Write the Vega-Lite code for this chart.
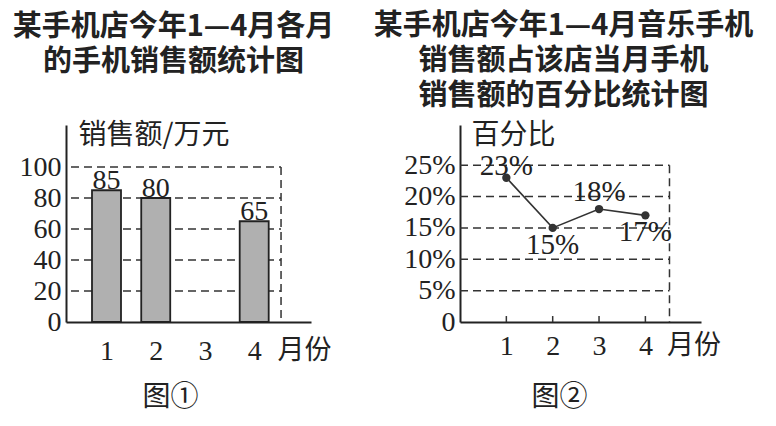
{
  "$schema": "https://vega.github.io/schema/vega-lite/v6.json",
  "padding": {"left": 12, "top": 12, "right": 4, "bottom": 4},
  "background": "white",
  "spacing": 38,
  "datasets": {
    "sales": [
      {"month": 1, "sales": 85},
      {"month": 2, "sales": 80},
      {"month": 4, "sales": 65}
    ],
    "share": [
      {"month": 1, "pct": 0.23},
      {"month": 2, "pct": 0.15},
      {"month": 3, "pct": 0.18},
      {"month": 4, "pct": 0.17}
    ],
    "gridL": [{"v": 20}, {"v": 40}, {"v": 60}, {"v": 80}, {"v": 100}],
    "gridR": [{"v": 0.05}, {"v": 0.1}, {"v": 0.15}, {"v": 0.2}, {"v": 0.25}]
  },
  "hconcat": [
    {
      "width": 245,
      "height": 197,
      "title": {
        "text": ["某手机店今年1—4月各月", "的手机销售额统计图"],
        "frame": "group",
        "anchor": "middle",
        "dx": -15,
        "offset": 44
      },
      "layer": [
        {
          "data": {"name": "gridL"},
          "mark": {"type": "rule", "color": "#333", "strokeWidth": 1.5, "strokeDash": [8, 5]},
          "encoding": {
            "y": {
              "field": "v",
              "type": "quantitative",
              "scale": {"domain": [0, 127.1], "nice": false},
              "axis": {"values": [0, 20, 40, 60, 80, 100], "labelOverlap": false, "title": "销售额/万元", "titleX": 12, "titleY": 10}
            },
            "x": {"datum": 0.279, "type": "quantitative", "scale": {"domain": [0.279, 5.052], "nice": false, "zero": false}},
            "x2": {"datum": 4.545}
          }
        },
        {
          "data": {"name": "gridL"},
          "transform": [{"filter": "datum.v == 100"}],
          "mark": {"type": "rule", "color": "#333", "strokeWidth": 1.5, "strokeDash": [8, 5]},
          "encoding": {
            "x": {"datum": 4.545, "type": "quantitative", "scale": {"domain": [0.279, 5.052], "nice": false, "zero": false}},
            "y": {
              "field": "v",
              "type": "quantitative",
              "scale": {"domain": [0, 127.1], "nice": false},
              "axis": {"values": [0, 20, 40, 60, 80, 100], "labelOverlap": false, "title": "销售额/万元", "titleX": 12, "titleY": 10}
            },
            "y2": {"datum": 0}
          }
        },
        {
          "data": {"name": "sales"},
          "mark": {"type": "bar", "width": 29, "fill": "#b0b0b0", "stroke": "#222", "strokeWidth": 1.8},
          "encoding": {
            "x": {
              "field": "month",
              "type": "quantitative",
              "scale": {"domain": [0.279, 5.052], "nice": false, "zero": false},
              "axis": {
                "values": [1, 2, 3, 4, 5.01],
                "labelExpr": "datum.value > 4.5 ? '月份' : datum.label",
                "labelFontSize": {"condition": {"test": "datum.value > 4.5", "value": 27}, "value": 28},
                "labelFont": {"condition": {"test": "datum.value > 4.5", "value": "Noto Sans CJK SC"}, "value": "Liberation Serif"},
                "labelPadding": 15,
                "labelOverlap": false,
                "title": "图①",
                "titleX": 104,
                "titleY": 75
              }
            },
            "y": {
              "field": "sales",
              "type": "quantitative",
              "scale": {"domain": [0, 127.1], "nice": false},
              "axis": {"values": [0, 20, 40, 60, 80, 100], "labelOverlap": false, "title": "销售额/万元", "titleX": 12, "titleY": 10}
            }
          }
        },
        {
          "data": {"name": "sales"},
          "mark": {"type": "text", "baseline": "alphabetic", "dy": -1, "font": "Liberation Serif", "fontSize": 28, "color": "#222"},
          "encoding": {
            "x": {"field": "month", "type": "quantitative", "scale": {"domain": [0.279, 5.052], "nice": false, "zero": false}},
            "y": {
              "field": "sales",
              "type": "quantitative",
              "scale": {"domain": [0, 127.1], "nice": false},
              "axis": {"values": [0, 20, 40, 60, 80, 100], "labelOverlap": false, "title": "销售额/万元", "titleX": 12, "titleY": 10}
            },
            "text": {"field": "sales", "type": "quantitative"}
          }
        }
      ]
    },
    {
      "width": 241,
      "height": 197,
      "title": {
        "text": ["某手机店今年1—4月音乐手机", "销售额占该店当月手机", "销售额的百分比统计图"],
        "frame": "group",
        "anchor": "middle",
        "dx": -17,
        "offset": 10
      },
      "layer": [
        {
          "data": {"name": "gridR"},
          "mark": {"type": "rule", "color": "#333", "strokeWidth": 1.5, "strokeDash": [8, 5]},
          "encoding": {
            "y": {
              "field": "v",
              "type": "quantitative",
              "scale": {"domain": [0, 0.314], "nice": false},
              "axis": {"values": [0, 0.05, 0.1, 0.15, 0.2, 0.25], "labelExpr": "datum.value == 0 ? '0' : format(datum.value, '.0%')", "labelOverlap": false, "title": "百分比", "titleX": 11, "titleY": 10}
            },
            "x": {"datum": 0, "type": "quantitative", "scale": {"domain": [0, 5.2], "nice": false}},
            "x2": {"datum": 4.52}
          }
        },
        {
          "data": {"name": "gridR"},
          "transform": [{"filter": "datum.v == 0.25"}],
          "mark": {"type": "rule", "color": "#333", "strokeWidth": 1.5, "strokeDash": [8, 5]},
          "encoding": {
            "x": {"datum": 4.52, "type": "quantitative", "scale": {"domain": [0, 5.2], "nice": false}},
            "y": {
              "field": "v",
              "type": "quantitative",
              "scale": {"domain": [0, 0.314], "nice": false},
              "axis": {"values": [0, 0.05, 0.1, 0.15, 0.2, 0.25], "labelExpr": "datum.value == 0 ? '0' : format(datum.value, '.0%')", "labelOverlap": false, "title": "百分比", "titleX": 11, "titleY": 10}
            },
            "y2": {"datum": 0}
          }
        },
        {
          "data": {"name": "share"},
          "mark": {"type": "rule", "color": "#333", "strokeWidth": 1.5},
          "encoding": {
            "x": {"field": "month", "type": "quantitative", "scale": {"domain": [0, 5.2], "nice": false}},
            "y": {
              "datum": 0.0095,
              "type": "quantitative",
              "scale": {"domain": [0, 0.314], "nice": false},
              "axis": {"values": [0, 0.05, 0.1, 0.15, 0.2, 0.25], "labelExpr": "datum.value == 0 ? '0' : format(datum.value, '.0%')", "labelOverlap": false, "title": "百分比", "titleX": 11, "titleY": 10}
            },
            "y2": {"datum": 0}
          }
        },
        {
          "data": {"name": "share"},
          "mark": {"type": "line", "color": "#333", "strokeWidth": 1.6, "point": {"filled": true, "size": 70, "color": "#333"}},
          "encoding": {
            "x": {
              "field": "month",
              "type": "quantitative",
              "scale": {"domain": [0, 5.2], "nice": false},
              "axis": {
                "values": [1, 2, 3, 4, 5.04],
                "labelExpr": "datum.value > 4.5 ? '月份' : datum.label",
                "labelFontSize": {"condition": {"test": "datum.value > 4.5", "value": 27}, "value": 28},
                "labelFont": {"condition": {"test": "datum.value > 4.5", "value": "Noto Sans CJK SC"}, "value": "Liberation Serif"},
                "labelPadding": 10,
                "labelOverlap": false,
                "title": "图②",
                "titleX": 99,
                "titleY": 75
              }
            },
            "y": {
              "field": "pct",
              "type": "quantitative",
              "scale": {"domain": [0, 0.314], "nice": false},
              "axis": {"values": [0, 0.05, 0.1, 0.15, 0.2, 0.25], "labelExpr": "datum.value == 0 ? '0' : format(datum.value, '.0%')", "labelOverlap": false, "title": "百分比", "titleX": 11, "titleY": 10}
            }
          }
        },
        {
          "data": {"name": "share"},
          "transform": [{"filter": "datum.month == 1"}],
          "mark": {"type": "text", "baseline": "middle", "dy": -12, "font": "Liberation Serif", "fontSize": 29, "color": "#222"},
          "encoding": {
            "x": {"field": "month", "type": "quantitative", "scale": {"domain": [0, 5.2], "nice": false}},
            "y": {
              "field": "pct",
              "type": "quantitative",
              "scale": {"domain": [0, 0.314], "nice": false},
              "axis": {"values": [0, 0.05, 0.1, 0.15, 0.2, 0.25], "labelExpr": "datum.value == 0 ? '0' : format(datum.value, '.0%')", "labelOverlap": false, "title": "百分比", "titleX": 11, "titleY": 10}
            },
            "text": {"field": "pct", "type": "quantitative", "format": ".0%"}
          }
        },
        {
          "data": {"name": "share"},
          "transform": [{"filter": "datum.month == 3"}],
          "mark": {"type": "text", "baseline": "middle", "dy": -17, "font": "Liberation Serif", "fontSize": 29, "color": "#222"},
          "encoding": {
            "x": {"field": "month", "type": "quantitative", "scale": {"domain": [0, 5.2], "nice": false}},
            "y": {
              "field": "pct",
              "type": "quantitative",
              "scale": {"domain": [0, 0.314], "nice": false},
              "axis": {"values": [0, 0.05, 0.1, 0.15, 0.2, 0.25], "labelExpr": "datum.value == 0 ? '0' : format(datum.value, '.0%')", "labelOverlap": false, "title": "百分比", "titleX": 11, "titleY": 10}
            },
            "text": {"field": "pct", "type": "quantitative", "format": ".0%"}
          }
        },
        {
          "data": {"name": "share"},
          "transform": [{"filter": "datum.month == 2 || datum.month == 4"}],
          "mark": {"type": "text", "baseline": "middle", "dy": 17, "font": "Liberation Serif", "fontSize": 29, "color": "#222"},
          "encoding": {
            "x": {"field": "month", "type": "quantitative", "scale": {"domain": [0, 5.2], "nice": false}},
            "y": {
              "field": "pct",
              "type": "quantitative",
              "scale": {"domain": [0, 0.314], "nice": false},
              "axis": {"values": [0, 0.05, 0.1, 0.15, 0.2, 0.25], "labelExpr": "datum.value == 0 ? '0' : format(datum.value, '.0%')", "labelOverlap": false, "title": "百分比", "titleX": 11, "titleY": 10}
            },
            "text": {"field": "pct", "type": "quantitative", "format": ".0%"}
          }
        }
      ]
    }
  ],
  "config": {
    "view": {"stroke": null},
    "title": {"font": "Noto Sans CJK SC", "fontSize": 29, "fontWeight": "bold", "lineHeight": 35, "color": "#222"},
    "axis": {
      "domainColor": "#222",
      "domainWidth": 2,
      "ticks": false,
      "grid": false,
      "labelColor": "#222",
      "labelFont": "Liberation Serif",
      "labelFontSize": 28,
      "labelPadding": 5,
      "labelOverlap": false,
      "titleFont": "Noto Sans CJK SC",
      "titleFontSize": 28,
      "titleFontWeight": "normal",
      "titleColor": "#222",
      "titleAngle": 0,
      "titleAlign": "left",
      "titleBaseline": "middle"
    },
    "axisX": {"titleAlign": "center"}
  }
}
